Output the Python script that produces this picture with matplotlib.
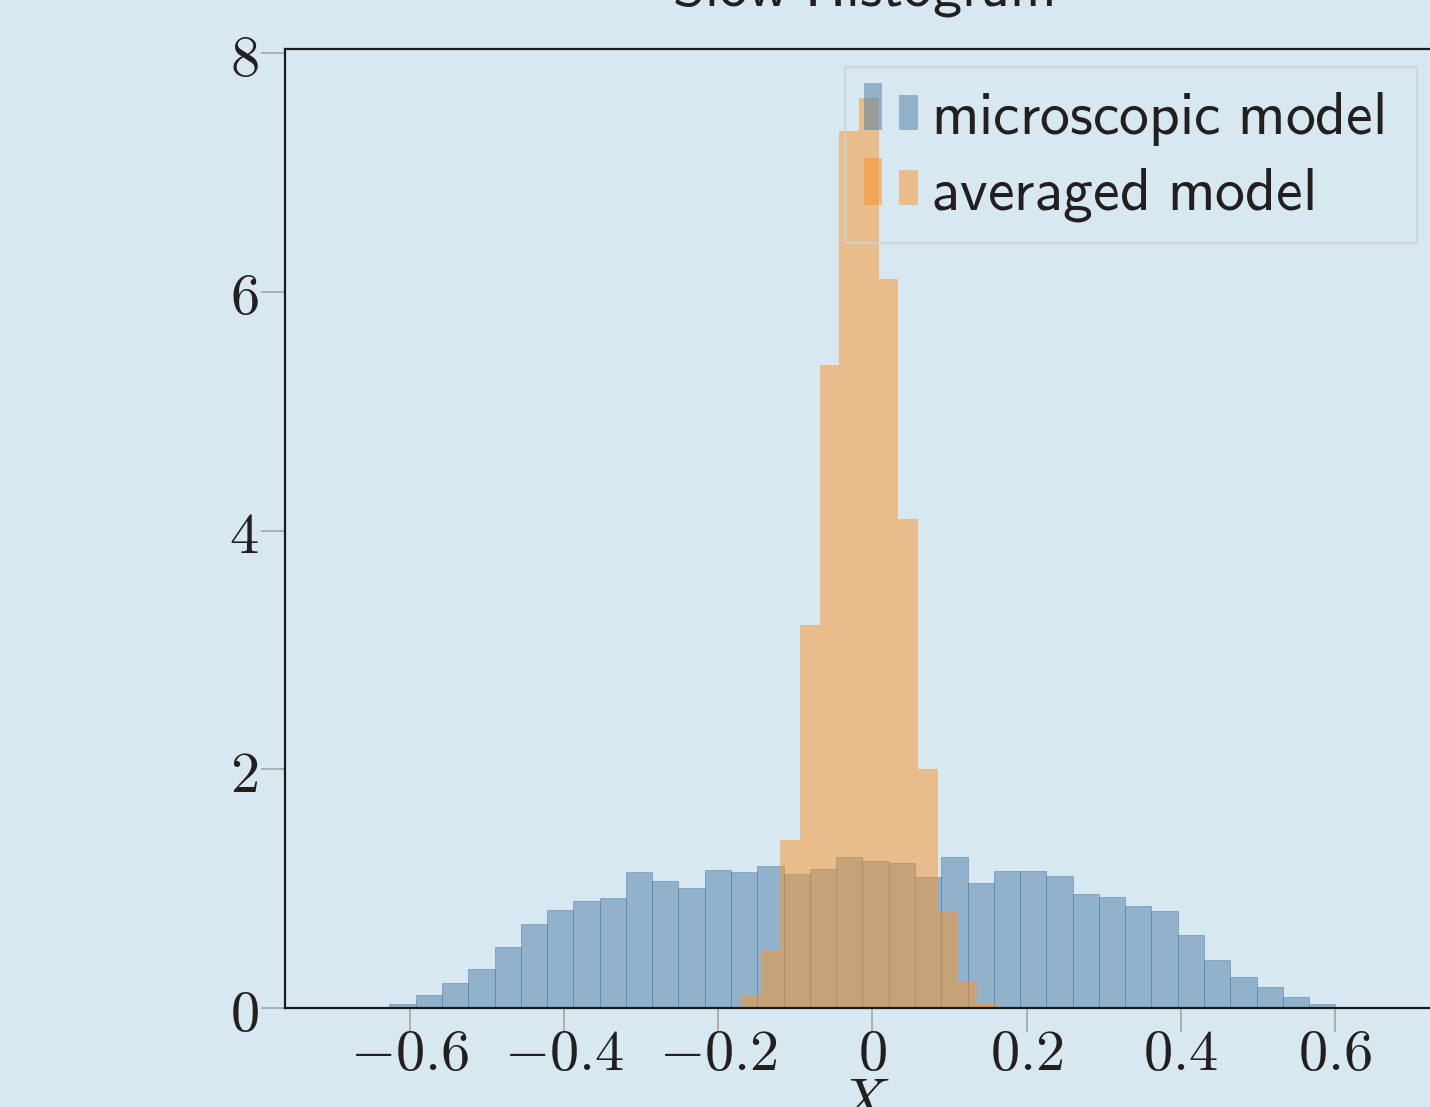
import numpy as np
import matplotlib
matplotlib.use("Agg")
import matplotlib.pyplot as plt
from matplotlib.legend_handler import HandlerBase
from matplotlib.patches import Rectangle
from matplotlib.path import Path

plt.rcParams["mathtext.fontset"] = "cm"
plt.rcParams["font.family"] = ["DejaVu Sans"]

# Microscopic model: 40 equal bins, density per bin
micro_left = -0.6947
micro_width = 0.03409
micro_density = [0.005, 0.008, 0.039, 0.114, 0.214, 0.33, 0.514, 0.706, 0.822, 0.897,
                 0.922, 1.139, 1.064, 1.006, 1.156, 1.139, 1.189, 1.122, 1.164, 1.264,
                 1.231, 1.214, 1.097, 1.264, 1.047, 1.147, 1.147, 1.106, 0.956, 0.931,
                 0.856, 0.814, 0.614, 0.406, 0.264, 0.181, 0.097, 0.039, 0.01, 0.01]

# Averaged model: 14 equal bins, density per bin
avg_left = -0.1960
avg_width = 0.02554
avg_density = [0.011, 0.114, 0.489, 1.406, 3.21, 5.39, 7.35, 7.62, 6.11, 4.10,
               2.00, 0.814, 0.23, 0.047]

series_labels = [r"$\mathsf{microscopic\ model}$", r"$\mathsf{averaged\ model}$"]
title_text = r"$\mathsf{Slow\ Histogram}$"
x_label = r"$X$"
x_ticks = [-0.6, -0.4, -0.2, 0, 0.2, 0.4, 0.6]
x_tick_labels = [r"$-0.6$", r"$-0.4$", r"$-0.2$", r"$0$", r"$0.2$", r"$0.4$", r"$0.6$"]
y_ticks = [0, 2, 4, 6, 8]
y_tick_labels = [r"$0$", r"$2$", r"$4$", r"$6$", r"$8$"]

BG = "#d8e8f0"
BLUE = "#4e7ca7"
ORANGE = "#f89427"
INK = "#231f20"
FS = 42
LEG_FS = 43

W, H = 1430, 1107
fig = plt.figure(figsize=(W / 100, H / 100), dpi=100, facecolor=BG)
ax = fig.add_axes([285 / W, 1 - 1008.3 / H, 1174.7 / W, (1008.3 - 48.8) / H])
ax.set_facecolor(BG)


def draw_hist(left, width, density, color, lw):
    n = len(density)
    edges = left + width * np.arange(n + 1)
    centers = 0.5 * (edges[:-1] + edges[1:])
    ax.hist(centers, bins=edges, weights=density, color=color, alpha=0.5,
            edgecolor=color, linewidth=lw)


draw_hist(micro_left, micro_width, micro_density, BLUE, 0.7)
draw_hist(avg_left, avg_width, avg_density, ORANGE, 0.0)

ax.set_xlim(-0.762, 0.762)
ax.set_ylim(0, 8.036)
ax.set_xticks(x_ticks)
ax.set_xticklabels(x_tick_labels)
ax.set_yticks(y_ticks)
ax.set_yticklabels(y_tick_labels)
ax.tick_params(direction="out", length=17, width=1.1, color="#a0a0a0",
               labelsize=FS, labelcolor=INK)
ax.tick_params(axis="x", pad=-5)
ax.tick_params(axis="y", pad=2)
for side in ["left", "top", "bottom", "right"]:
    ax.spines[side].set_color("#1a1a1a")
    ax.spines[side].set_linewidth(1.6)

ax.set_xlabel(x_label, fontsize=FS, color=INK, labelpad=-6, x=0.4925)
ax.set_title(title_text, fontsize=FS, color=INK, pad=31, x=0.4919)


class PairedBarHandler(HandlerBase):
    """Legend key made of a taller and a shorter bar side by side."""

    def create_artists(self, legend, orig_handle, xdescent, ydescent,
                       width, height, fontsize, trans):
        color = orig_handle.get_facecolor()
        bw = width * 0.34
        y0 = -ydescent + 0.043 * fontsize
        short_h = 0.59 * fontsize
        tall = Rectangle((-xdescent, y0), bw, short_h * 1.33,
                         facecolor=color, edgecolor="none", transform=trans)
        short = Rectangle((-xdescent + width - bw, y0), bw, short_h,
                          facecolor=color, edgecolor="none", transform=trans)
        return [tall, short]


class PaddedSquare:
    """Square legend frame with separate padding on each side (in font sizes)."""

    def __init__(self, left, right, top, bottom):
        self.pads = (left, right, top, bottom)

    def __call__(self, x0, y0, width, height, mutation_size):
        l, r, t, b = (p * mutation_size for p in self.pads)
        x1, y1 = x0 + width + r, y0 + height + t
        xa, ya = x0 - l, y0 - b
        return Path([(xa, ya), (x1, ya), (x1, y1), (xa, y1), (xa, ya)], closed=True)


proxies = [Rectangle((0, 0), 1, 1, facecolor=matplotlib.colors.to_rgba(BLUE, 0.5)),
           Rectangle((0, 0), 1, 1, facecolor=matplotlib.colors.to_rgba(ORANGE, 0.5))]

leg = ax.legend(proxies, series_labels, loc="upper right",
                bbox_to_anchor=(1383.5 / W, 1 - 88.5 / H), bbox_transform=fig.transFigure,
                borderaxespad=0, fontsize=LEG_FS, handlelength=0.9, handleheight=0.62,
                handletextpad=0.22, labelspacing=0.25, borderpad=0.0,
                fancybox=False, handler_map={Rectangle: PairedBarHandler()})
frame = leg.get_frame()
frame.set_boxstyle(PaddedSquare(0.318, 0.565, 0.353, 0.321))
frame.set_facecolor("none")
frame.set_edgecolor("#cdd3d6")
frame.set_linewidth(1.5)
for t in leg.get_texts():
    t.set_color(INK)

fig.savefig("out.png", dpi=100, facecolor=BG)
